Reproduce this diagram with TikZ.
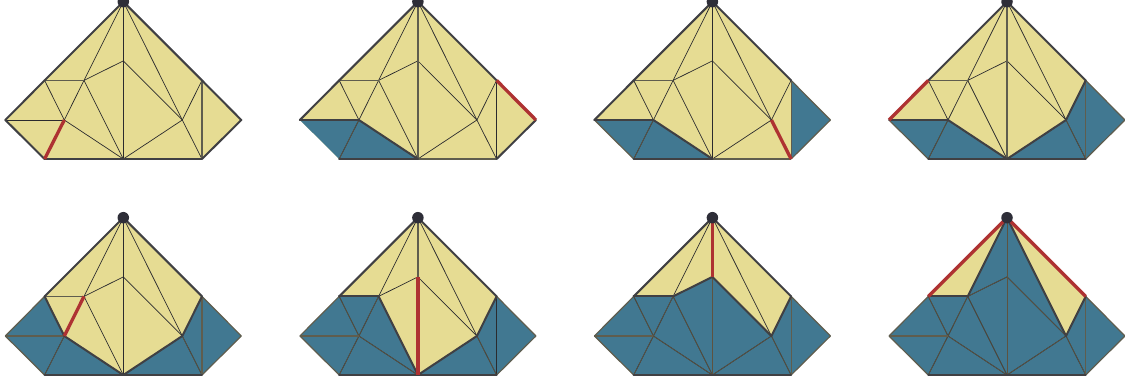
\documentclass[tikz,border=0pt]{standalone}
\definecolor{cream}{HTML}{E6DC93}
\definecolor{teal}{HTML}{417891}
\definecolor{ink}{HTML}{2B2B2E}
\definecolor{olive}{HTML}{5F5D4E}
\definecolor{brownish}{HTML}{5D5340}
\definecolor{redline}{HTML}{AE3232}
\definecolor{apexc}{HTML}{2E2E38}
\tikzset{
  face/.style={fill=cream,draw=none},
  done/.style={fill=teal,draw=none},
  thinedge/.style={draw=ink,line width=0.7pt},
  midedge/.style={draw=olive,line width=1.2pt},
  insideedge/.style={draw=brownish,line width=0.65pt},
  frontedge/.style={draw=ink!90!white,line width=2pt,line cap=round},
  rededge/.style={draw=redline,line width=3.3pt},
  apexdot/.style={circle,fill=apexc,draw=none,minimum size=11.5pt,inner sep=0pt},
}
% #1 panel x, #2 panel y, #3 blue outline, #4 inside edges, #5 mid edges, #6 front edges, #7 red edges
\newcommand{\panelfig}[7]{%
  \begin{scope}[shift={(#1,#2)}]
    \coordinate (A) at (0,0);
    \coordinate (C) at (0,59.2);
    \coordinate (UL) at (-78.7,78.7);
    \coordinate (UR) at (78.7,78.7);
    \coordinate (P) at (-39.3,78.7);
    \coordinate (L) at (-118,118.3);
    \coordinate (Q) at (-59,118.3);
    \coordinate (S) at (59,118.3);
    \coordinate (R) at (118,118.3);
    \coordinate (BL) at (-78.7,157.3);
    \coordinate (BM) at (0,157.3);
    \coordinate (BR) at (78.7,157.3);
    \path[face] (A)--(UL)--(L)--(BL)--(BM)--(BR)--(R)--(UR)--cycle;
    #3
    \foreach \a/\b in {A/P,A/C,C/BM,A/S,UL/P,UL/Q,L/Q,Q/P,Q/BL,Q/BM,P/BM,P/C,C/S,S/UR,S/BR,S/BM,UR/BR}
      {\draw[thinedge] (\a) -- (\b);}
    \foreach \a/\b in {#4} {\draw[insideedge] (\a) -- (\b);}
    \foreach \a/\b in {#5} {\draw[midedge] (\a) -- (\b);}
    \foreach \a/\b in {#6} {\draw[frontedge] (\a) -- (\b);}
    \foreach \a/\b in {#7} {\draw[rededge] (\a) -- (\b);}
    \node[apexdot] (apex) at (A) {};
  \end{scope}}
\begin{document}
\begin{tikzpicture}[x=1pt,y=-1pt]
\useasboundingbox[fill=white] (0,0) rectangle (1125,383);
\def\ra{1.7}\def\rb{217.7}
\def\xa{123.3}\def\xb{417.9}\def\xc{712.4}\def\xd{1007}
\panelfig{\xa}{\ra}{}{A/A}{UL/P,UR/BR}
 {A/UL,UL/L,L/BL,BL/BM,BM/BR,BR/R,R/UR,UR/A}{Q/BL}
\panelfig{\xb}{\ra}{\path[done] (L)--(Q)--(BM)--(BL)--cycle;}{Q/BL}{UL/P,A/C,C/BM,BM/BR}
 {A/UL,UL/L,L/Q,Q/BM,BL/BM,BR/R,UR/A}{UR/R}
\panelfig{\xc}{\ra}{\path[done] (L)--(Q)--(BM)--(BL)--cycle;\path[done] (UR)--(R)--(BR)--cycle;}{Q/BL}{UL/P,UR/BR,BM/BR,L/BL,R/UR,BR/R}
 {A/UL,UL/L,L/Q,Q/BM,BL/BM,UR/A}{S/BR}
\panelfig{\xd}{\ra}{\path[done] (L)--(Q)--(BM)--(S)--(UR)--(R)--(BR)--(BL)--cycle;}{Q/BL,S/BR}{UL/P,A/C,C/BM,UR/BR,R/UR,BR/R,L/BL}
 {A/UL,A/UR,UR/S,S/BM,BM/Q,Q/L,BL/BR}{L/UL}
\panelfig{\xa}{\rb}{\path[done] (UL)--(Q)--(BM)--(S)--(UR)--(R)--(BR)--(BL)--(L)--cycle;}{Q/BL,S/BR}{L/Q,UL/P,UR/BR,UL/L,L/BL,UR/R,R/BR}
 {A/UL,A/UR,UR/S,S/BM,BM/Q,Q/UL,BL/BR}{Q/P}
\panelfig{\xb}{\rb}{\path[done] (UL)--(P)--(BM)--(S)--(UR)--(R)--(BR)--(BL)--(L)--cycle;}{Q/BL,S/BR,UL/Q,Q/P,Q/BM}{L/Q,A/C,UL/L,L/BL,UR/R,R/BR}
 {A/UL,A/UR,UR/S,S/BM,BM/P,P/UL,BL/BR}{C/BM}
\panelfig{\xc}{\rb}{\path[done] (UL)--(P)--(C)--(S)--(UR)--(R)--(BR)--(BL)--(L)--cycle;}{Q/BL,S/BR,UL/Q,Q/P,Q/BM,P/BM,S/BM,C/BM}{L/Q,UR/BR,UL/L,L/BL,UR/R,R/BR}
 {A/UL,A/UR,UR/S,S/C,C/P,P/UL,BL/BR}{A/C}
\panelfig{\xd}{\rb}{\path[done] (UL)--(P)--(A)--(S)--(UR)--(R)--(BR)--(BL)--(L)--cycle;}{Q/BL,S/BR,UL/Q,Q/P,Q/BM,P/BM,S/BM,C/BM,A/C,P/C,C/S}{L/Q,UR/BR,UL/L,L/BL,UR/R,R/BR}
 {UR/S,S/A,A/P,P/UL,BL/BR}{A/UL,A/UR}
\end{tikzpicture}
\end{document}
